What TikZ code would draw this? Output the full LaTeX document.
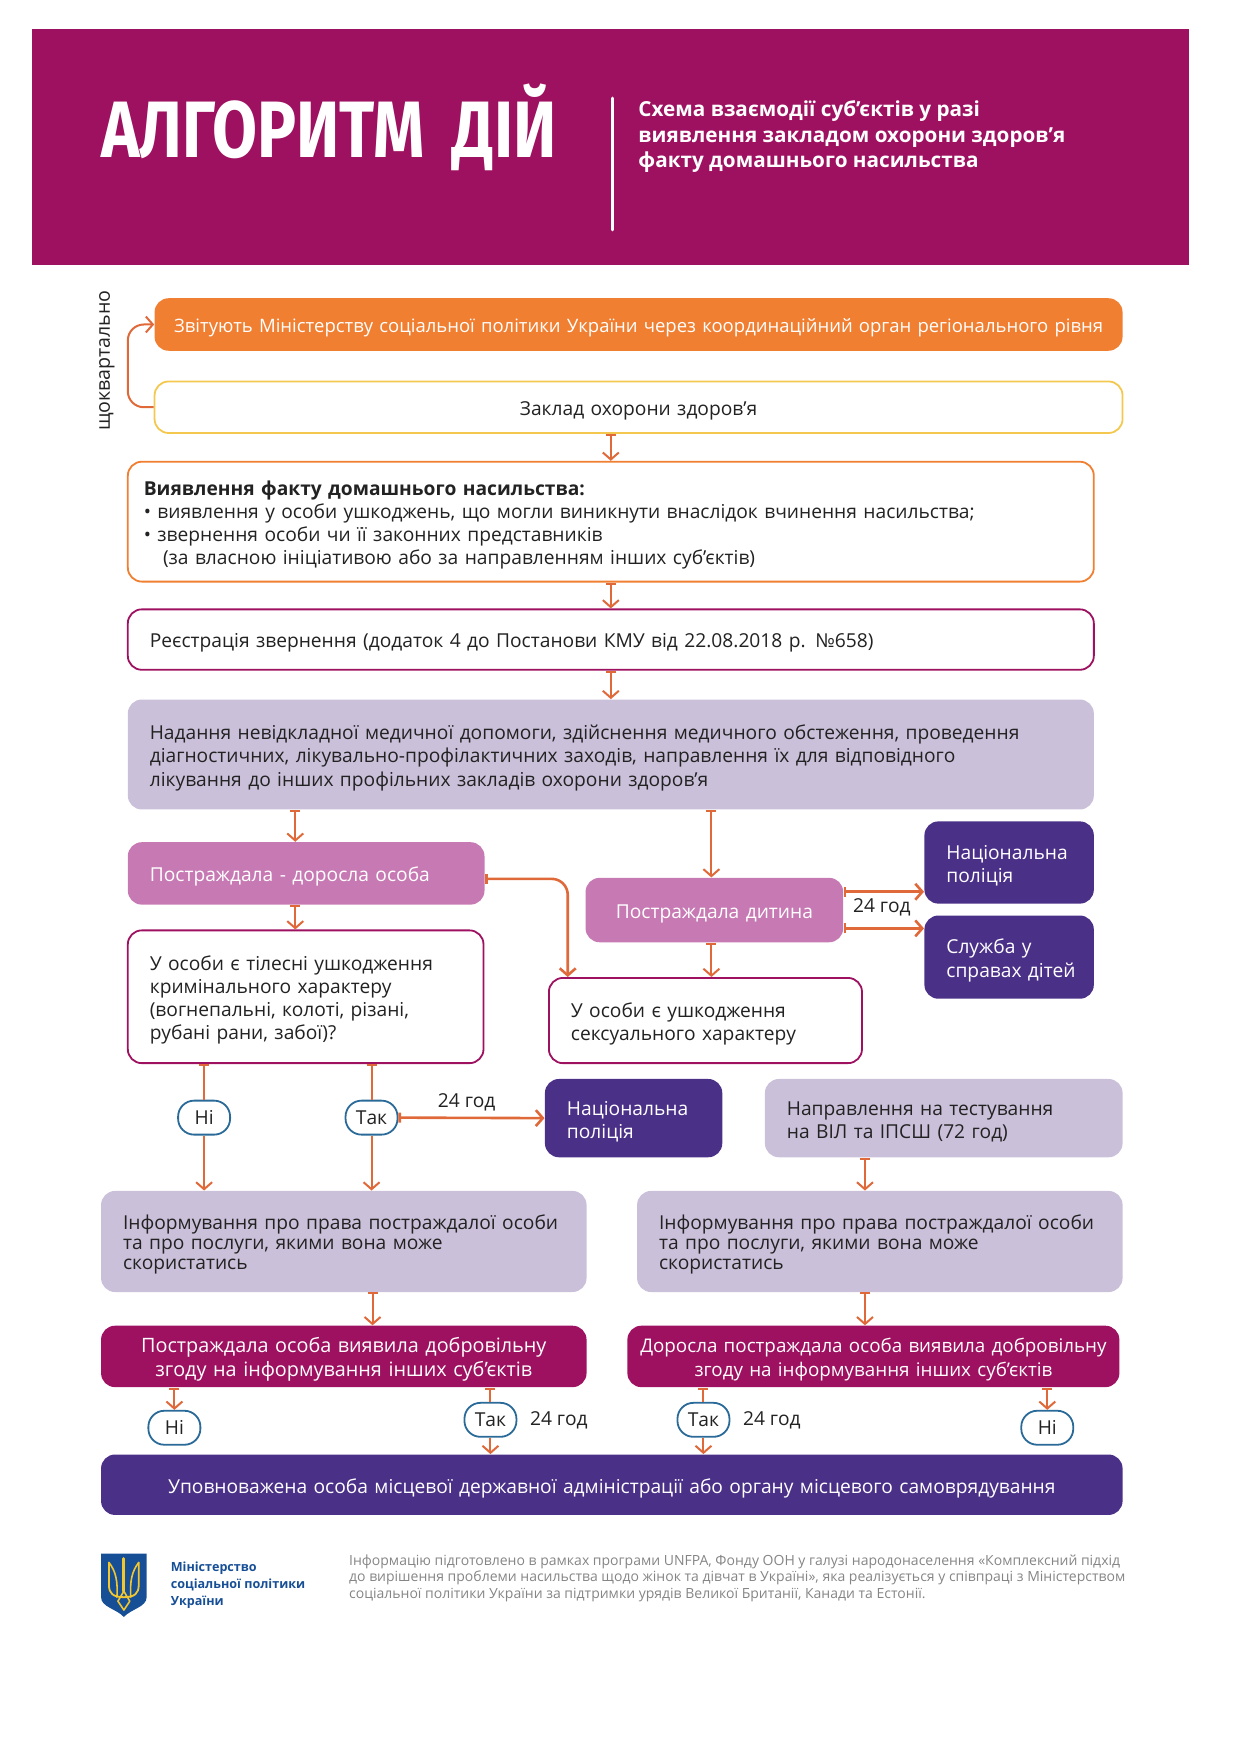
\documentclass[tikz,border=0pt]{standalone}
\usepackage{fontspec}
\setmainfont{Open Sans}
\newfontfamily\titlefont{Fira Sans}
\usetikzlibrary{arrows.meta}
\definecolor{bannerc}{HTML}{9E1060}
\definecolor{violetc}{HTML}{4B3088}
\definecolor{lilacc}{HTML}{CBC0DA}
\definecolor{pinkc}{HTML}{C779B3}
\definecolor{orangec}{HTML}{F07F31}
\definecolor{yellowc}{HTML}{F4C84E}
\definecolor{linkc}{HTML}{E0693A}
\definecolor{pillc}{HTML}{2A6A98}
\definecolor{inkc}{HTML}{222222}
\definecolor{footc}{HTML}{858585}
\definecolor{minc}{HTML}{174F96}
\definecolor{goldc}{HTML}{F2C62F}
\tikzset{
  sized/.style 2 args={minimum height=#2*0.4954pt, text width=#1*0.4954pt-22pt, inner xsep=11pt, inner ysep=0pt},
  flow/.style={rounded corners=7pt, align=left, font=\fontsize{9.6}{11.6}\selectfont, text=inkc, execute at begin node={\rule{0pt}{10.6pt}}},
  white box/.style={flow, fill=white, draw=bannerc, line width=0.9pt},
  lilac box/.style={flow, fill=lilacc},
  violet box/.style={flow, fill=violetc, text=white},
  pink box/.style={flow, fill=pinkc, text=white},
  wine box/.style={flow, fill=bannerc, text=white, align=center},
  pill/.style={fill=white, draw=pillc, line width=0.9pt, rounded corners=8pt, minimum width=26pt, minimum height=17pt, inner sep=0pt, text=inkc, font=\fontsize{9.6}{11}\selectfont},
  note/.style={text=inkc, font=\fontsize{9.6}{11}\selectfont, inner sep=0pt},
  link/.style={draw=linkc, line width=1pt, {Bar[width=5pt,length=0.8pt]}-{Straight Barb[length=3.5pt,width=8pt]}},
  link in/.style={draw=linkc, line width=1pt, -{Straight Barb[length=3.5pt,width=8pt]}},
  link out/.style={draw=linkc, line width=1pt, {Bar[width=5pt,length=0.8pt]}-},
  heavy/.style={line width=1.3pt},
}
\begin{document}
\begin{tikzpicture}[x=0.4954pt,y=-0.4954pt]
  \useasboundingbox (0,0) rectangle (1251.5,1771.3);
  % banner
  \fill[bannerc] (32,29) rectangle (1200,267);
  \draw[white, line width=1.6pt, line cap=round] (618,99) -- (618,232);
  \node[anchor=west, text=white, inner sep=0pt, font=\titlefont\bfseries\fontsize{40}{40}\selectfont] (title) at (102,129) {\scalebox{0.815}[1]{АЛГОРИТМ\hspace{0.2em} ДІЙ}};
  \node[anchor=west, text=white, inner sep=0pt, align=left, font=\bfseries\fontsize{10.35}{12.8}\selectfont] (subtitle) at (644,138) {Схема взаємодії суб’єктів у разі\\виявлення закладом охорони здоров’я\\факту домашнього насильства};

  % boxes, top to bottom
  \node[flow, sized={977}{53}, fill=orangec, text=white, align=center, inner xsep=4pt, text width=476pt, font=\fontsize{9.25}{11}\selectfont] (report) at (644.5,327.5) {Звітують Міністерству соціальної політики України через координаційний орган регіонального рівня};
  \node[flow, sized={977}{52}, fill=white, draw=yellowc, line width=0.9pt, align=center] (clinic) at (644.5,411) {Заклад охорони здоров’я};
  \node[flow, sized={975}{121}, fill=white, draw=orangec, line width=0.9pt, inner xsep=8pt, text width=467pt] (detect) at (616.5,526.5) {\textbf{Виявлення факту домашнього насильства:}\\• виявлення у особи ушкоджень, що могли виникнути внаслідок вчинення насильства;\\• звернення особи чи її законних представників\\\hspace*{1em}(за власною ініціативою або за направленням інших суб’єктів)};
  \node[white box, sized={975}{61}] (register) at (616.5,645.5) {Реєстрація звернення (додаток 4 до Постанови КМУ від 22.08.2018 р. №658)};
  \node[lilac box, sized={975}{111}] (care) at (616.5,761.5) {Надання невідкладної медичної допомоги, здійснення медичного обстеження, проведення\\діагностичних, лікувально-профілактичних заходів, направлення їх для відповідного\\лікування до інших профільних закладів охорони здоров’я};
  \node[pink box, sized={360}{63}] (adult) at (309,881.5) {Постраждала - доросла особа};
  \node[pink box, sized={260}{65}, align=center] (child) at (721,918.5) {Постраждала дитина};
  \node[violet box, sized={171}{83}] (police a) at (1018.5,870.5) {Національна\\поліція};
  \node[violet box, sized={171}{84}] (service) at (1018.5,966) {Служба у\\справах~дітей};
  \node[white box, sized={359}{134}] (bodily) at (308.5,1006) {У особи є тілесні ушкодження\\кримінального характеру\\(вогнепальні, колоті, різані,\\рубані рани, забої)?};
  \node[white box, sized={316}{86}] (sexual) at (712,1030) {У особи є ушкодження\\сексуального характеру};
  \node[pill] (no a) at (206,1128) {Ні};
  \node[pill] (yes a) at (375,1128) {Так};
  \node[violet box, sized={179}{79}] (police b) at (639.5,1128.5) {Національна\\поліція};
  \node[lilac box, sized={361}{79}] (testing) at (952.5,1128.5) {Направлення на тестування\\на ВІЛ та ІПСШ (72 год)};
  \node[lilac box, sized={490}{102}, font=\fontsize{9.6}{9.9}\selectfont] (info a) at (347,1253) {Інформування про права постраждалої особи\\та про послуги, якими вона може\\скористатись};
  \node[lilac box, sized={490}{102}, font=\fontsize{9.6}{9.9}\selectfont] (info b) at (888,1253) {Інформування про права постраждалої особи\\та про послуги, якими вона може\\скористатись};
  \node[wine box, sized={490}{62}, font=\fontsize{9.9}{11.8}\selectfont] (consent a) at (347,1369) {Постраждала особа виявила добровільну\\згоду на інформування інших суб’єктів};
  \node[wine box, sized={497}{62}, inner xsep=4pt, text width=238pt, font=\fontsize{9.4}{11.8}\selectfont] (consent b) at (881.5,1369) {Доросла постраждала особа виявила добровільну\\згоду на інформування інших суб’єктів};
  \node[pill] (no b) at (176,1441) {Ні};
  \node[pill] (yes b) at (495,1433) {Так};
  \node[pill] (yes c) at (710,1433) {Так};
  \node[pill] (no c) at (1057,1441) {Ні};
  \node[violet box, sized={1031}{61}, align=center] (officer) at (617.5,1498.5) {Уповноважена особа місцевої державної адміністрації або органу місцевого самоврядування};

  % small labels
  \node[note, rotate=90, font=\fontsize{9.8}{11}\selectfont] (quarterly) at (108,364) {щоквартально};
  \node[note] (hours a) at (890,916) {24 год};
  \node[note] (hours b) at (471,1113) {24 год};
  \node[note] (hours c) at (564,1433) {24 год};
  \node[note] (hours d) at (779,1433) {24 год};

  % helpers for the off-centre links
  \coordinate (loop) at (129,370);
  \coordinate (down a) at (298,0);
  \coordinate (side a) at (573,887);
  \coordinate (side b) at (0,900);
  \coordinate (side c) at (0,937);
  \coordinate (down b) at (873,0);
  \coordinate (down c) at (376,0);
  \coordinate (down d) at (718,0);

  % connectors
  \draw[link in, rounded corners=8pt] (clinic.west) -| (loop) |- (report.west);
  \draw[link] (clinic.south -| detect.north) -- (detect.north);
  \draw[link] (detect.south) -- (register.north);
  \draw[link] (register.south) -- (care.north);
  \draw[link] (care.south -| down a) -- (adult.north -| down a);
  \draw[link] (adult.south -| down a) -- (bodily.north -| down a);
  \draw[link] (care.south -| down d) -- (child.north -| down d);
  \draw[link] (child.south -| down d) -- (sexual.north -| down d);
  \draw[link, heavy, rounded corners=8pt] (adult.east |- side a) -| (sexual.north -| side a);
  \draw[link, heavy] (child.east |- side b) -- (police a.west |- side b);
  \draw[link, heavy] (child.east |- side c) -- (service.west |- side c);
  \draw[link out] (bodily.south -| no a) -- (no a.north);
  \draw[link in] (no a.south) -- (info a.north -| no a);
  \draw[link out] (bodily.south -| yes a) -- (yes a.north);
  \draw[link in] (yes a.south) -- (info a.north -| yes a);
  \draw[link, heavy] (yes a.east) -- (police b.west);
  \draw[link] (testing.south -| down b) -- (info b.north -| down b);
  \draw[link] (info a.south -| down c) -- (consent a.north -| down c);
  \draw[link] (info b.south -| down b) -- (consent b.north -| down b);
  \draw[link] (consent a.south -| no b) -- (no b.north);
  \draw[link out] (consent a.south -| yes b) -- (yes b.north);
  \draw[link in] (yes b.south) -- (officer.north -| yes b);
  \draw[link out] (consent b.south -| yes c) -- (yes c.north);
  \draw[link in] (yes c.south) -- (officer.north -| yes c);
  \draw[link] (consent b.south -| no c) -- (no c.north);

  % footer
  \fill[minc] (102,1568) -- (148,1568) -- (148,1612) .. controls (148,1622) and (132,1624) .. (125,1632) .. controls (118,1624) and (102,1622) .. (102,1612) -- cycle;
  \draw[goldc, line width=1.5pt, line cap=round] (125,1573) -- (125,1606);
  \draw[goldc, line width=0.9pt, line cap=round] (110,1577) -- (110,1600) .. controls (110,1608) and (114,1612) .. (125,1612) .. controls (136,1612) and (140,1608) .. (140,1600) -- (140,1577);
  \draw[goldc, line width=0.8pt, line cap=round] (110,1577) .. controls (117,1586) and (119,1596) .. (118,1612);
  \draw[goldc, line width=0.8pt, line cap=round] (140,1577) .. controls (133,1586) and (131,1596) .. (132,1612);
  \draw[goldc, line width=0.8pt, line join=round] (125,1606) -- (119,1616) -- (125,1625) -- (131,1616) -- cycle;
  \node[anchor=west, align=left, inner sep=0pt, text=minc, font=\bfseries\fontsize{6.3}{8.5}\selectfont] (ministry) at (172,1600) {Міністерство\\соціальної політики\\України};
  \node[anchor=west, align=left, inner sep=0pt, text=footc, font=\fontsize{7}{8.4}\selectfont] (source) at (352,1593) {Інформацію підготовлено в рамках програми UNFPA, Фонду ООН у галузі народонаселення «Комплексний підхід\\до вирішення проблеми насильства щодо жінок та дівчат в Україні», яка реалізується у співпраці з Міністерством\\соціальної політики України за підтримки урядів Великої Британії, Канади та Естонії.};
\end{tikzpicture}
\end{document}
